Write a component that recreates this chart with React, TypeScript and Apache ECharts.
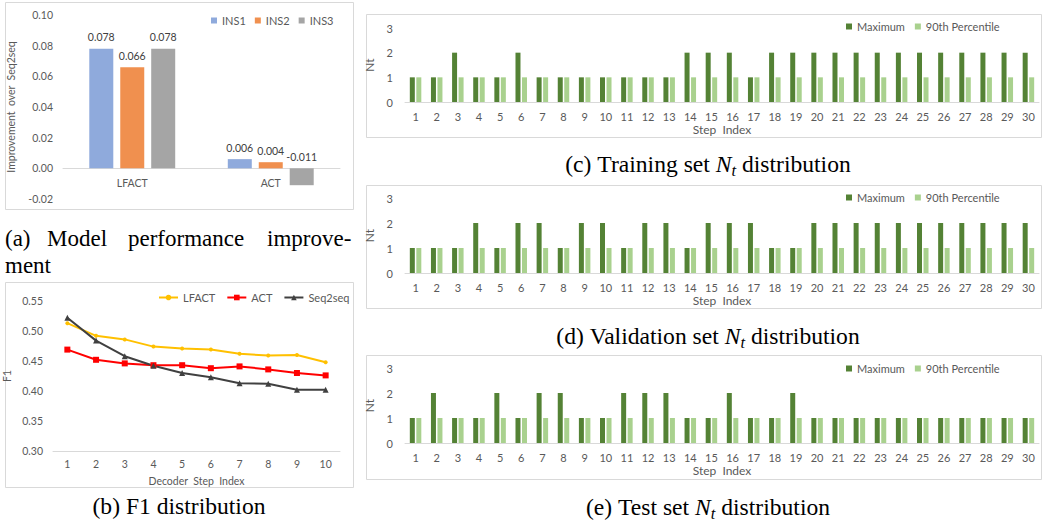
import React, { useEffect, useRef } from "react";
import * as echarts from "echarts";

// (a) Model performance improvement
const improveCats = ["LFACT", "ACT"];
const ins1 = [0.078, 0.006];
const ins2 = [0.066, 0.004];
const ins3 = [0.078, -0.011];

// (b) F1 distribution
const decoderSteps = ["1", "2", "3", "4", "5", "6", "7", "8", "9", "10"];
const f1LFACT = [0.513, 0.492, 0.486, 0.474, 0.471, 0.469, 0.462, 0.459, 0.46, 0.448];
const f1ACT = [0.469, 0.452, 0.446, 0.443, 0.443, 0.438, 0.441, 0.436, 0.43, 0.426];
const f1Seq2seq = [0.522, 0.484, 0.458, 0.442, 0.43, 0.423, 0.413, 0.412, 0.402, 0.402];

// (c)(d)(e) Nt distributions
const stepIndex = [
  "1", "2", "3", "4", "5", "6", "7", "8", "9", "10",
  "11", "12", "13", "14", "15", "16", "17", "18", "19", "20",
  "21", "22", "23", "24", "25", "26", "27", "28", "29", "30",
];
const trainMax = [1, 1, 2, 1, 1, 2, 1, 1, 1, 1, 1, 1, 1, 2, 2, 2, 1, 2, 2, 2, 2, 2, 2, 2, 2, 2, 2, 2, 2, 2];
const trainP90 = [1, 1, 1, 1, 1, 1, 1, 1, 1, 1, 1, 1, 1, 1, 1, 1, 1, 1, 1, 1, 1, 1, 1, 1, 1, 1, 1, 1, 1, 1];
const validMax = [1, 1, 1, 2, 1, 2, 2, 1, 2, 2, 1, 2, 2, 1, 2, 2, 2, 1, 1, 2, 2, 2, 2, 2, 2, 2, 2, 2, 2, 2];
const validP90 = [1, 1, 1, 1, 1, 1, 1, 1, 1, 1, 1, 1, 1, 1, 1, 1, 1, 1, 1, 1, 1, 1, 1, 1, 1, 1, 1, 1, 1, 1];
const testMax = [1, 2, 1, 1, 2, 1, 2, 2, 1, 1, 2, 2, 2, 1, 1, 2, 1, 1, 2, 1, 1, 1, 1, 1, 1, 1, 1, 1, 1, 1];
const testP90 = [1, 1, 1, 1, 1, 1, 1, 1, 1, 1, 1, 1, 1, 1, 1, 1, 1, 1, 1, 1, 1, 1, 1, 1, 1, 1, 1, 1, 1, 1];

const FONT = "Lato";
const SERIF = "Liberation Serif";
const GREY = "#595959";
const LINE = "#D9D9D9";
const DARK = "#548235";
const LIGHT = "#A9D18E";
const CAP = 23.6;

let ctx: CanvasRenderingContext2D | null = null;
function tw(t: string, size: number, italic?: boolean) {
  if (!ctx) ctx = document.createElement("canvas").getContext("2d");
  if (!ctx) return t.length * size * 0.5;
  ctx.font = `${italic ? "italic " : ""}${size}px "${SERIF}"`;
  return ctx.measureText(t).width;
}

type Part = { t: string; italic?: boolean; size?: number; dy?: number; space?: boolean };
function caption(cx: number, cy: number, parts: Part[]) {
  const widths = parts.map((p) => (p.space ? tw(" ", CAP) : tw(p.t, p.size || CAP, p.italic)));
  const total = widths.reduce((a, b) => a + b, 0);
  let x = cx - total / 2;
  const els: any[] = [];
  parts.forEach((p, i) => {
    if (!p.space) {
      els.push({
        type: "text",
        x,
        y: cy + (p.dy || 0),
        style: {
          text: p.t,
          fill: "#000",
          fontFamily: SERIF,
          fontSize: p.size || CAP,
          fontStyle: p.italic ? "italic" : "normal",
          align: "left",
          verticalAlign: "middle",
        },
      });
    }
    x += widths[i];
  });
  return els;
}

function word(x: number, y: number, t: string) {
  return {
    type: "text",
    x,
    y,
    style: { text: t, fill: "#000", fontFamily: SERIF, fontSize: 23, align: "left", verticalAlign: "middle" },
  };
}

function box(x: number, y: number, w: number, h: number) {
  return {
    type: "rect",
    shape: { x: x + 0.5, y: y + 0.5, width: w, height: h },
    style: { fill: "none", stroke: LINE, lineWidth: 1 },
    silent: true,
  };
}

function ntCaption(cy: number, letter: string, setName: string) {
  return caption(708, cy, [
    { t: `(${letter})` },
    { t: " ", space: true },
    { t: setName },
    { t: " ", space: true },
    { t: "set" },
    { t: " ", space: true },
    { t: "N", italic: true },
    { t: "t", italic: true, size: 16.5, dy: 6 },
    { t: " ", space: true },
    { t: "distribution" },
  ]);
}

export default function App() {
  const ref = useRef<HTMLDivElement>(null);
  useEffect(() => {
    if (!ref.current) return;
    const chart = echarts.init(ref.current, null, { renderer: "svg" });

    const labelStyle = { color: GREY, fontSize: 10.5, fontFamily: FONT };
    const ntGrids = [
      { top: 28, height: 74 },
      { top: 198, height: 75 },
      { top: 368, height: 75 },
    ];
    const ntData = [
      [trainMax, trainP90],
      [validMax, validP90],
      [testMax, testP90],
    ];
    const ntLegendTops = [21, 192, 363];

    const aMin = -0.02;
    const aMax = 0.1;
    const aHeight = 184;
    const zeroOffset = (aHeight * (0 - aMin)) / (aMax - aMin);

    const grids: any[] = [
      { left: 63, top: 15, width: 277, height: aHeight },
      { left: 53, top: 301, width: 287, height: 150 },
      ...ntGrids.map((g) => ({ left: 405, top: g.top, width: 634, height: g.height })),
    ];

    const xAxes: any[] = [
      {
        type: "category",
        gridIndex: 0,
        data: improveCats,
        offset: -zeroOffset,
        axisTick: { show: false },
        axisLine: { onZero: false, lineStyle: { color: LINE } },
        axisLabel: { ...labelStyle, margin: 9 },
      },
      {
        type: "category",
        gridIndex: 1,
        data: decoderSteps,
        axisTick: { show: false },
        axisLine: { lineStyle: { color: LINE } },
        axisLabel: { ...labelStyle, margin: 7 },
        name: "Decoder  Step  Index",
        nameLocation: "middle",
        nameGap: 24,
        nameTextStyle: { color: GREY, fontSize: 10.5, fontFamily: FONT },
      },
      ...ntGrids.map((_, i) => ({
        type: "category",
        gridIndex: 2 + i,
        data: stepIndex,
        axisTick: { show: false },
        axisLine: { lineStyle: { color: LINE } },
        axisLabel: { ...labelStyle, fontSize: 11, margin: 9, interval: 0 },
        name: "Step  Index",
        nameLocation: "middle",
        nameGap: 21,
        nameTextStyle: { color: GREY, fontSize: 12, fontFamily: FONT },
      })),
    ];

    const yAxes: any[] = [
      {
        type: "value",
        gridIndex: 0,
        min: aMin,
        max: aMax,
        interval: 0.02,
        splitLine: { show: false },
        axisLine: { show: false },
        axisTick: { show: false },
        axisLabel: { ...labelStyle, margin: 10, formatter: (v: number) => v.toFixed(2) },
        name: "Improvement  over  Seq2seq",
        nameLocation: "middle",
        nameGap: 47,
        nameTextStyle: { color: GREY, fontSize: 10.5, fontFamily: FONT },
      },
      {
        type: "value",
        gridIndex: 1,
        min: 0.3,
        max: 0.55,
        interval: 0.05,
        splitLine: { show: false },
        axisLine: { show: false },
        axisTick: { show: false },
        axisLabel: { ...labelStyle, margin: 10, formatter: (v: number) => v.toFixed(2) },
        name: "F1",
        nameLocation: "middle",
        nameGap: 41,
        nameTextStyle: { color: GREY, fontSize: 10.5, fontFamily: FONT },
      },
      ...ntGrids.map((_, i) => ({
        type: "value",
        gridIndex: 2 + i,
        min: 0,
        max: 3,
        interval: 1,
        splitLine: { show: false },
        axisLine: { show: false },
        axisTick: { show: false },
        axisLabel: { ...labelStyle, fontSize: 11, margin: 12 },
        name: "Nt",
        nameLocation: "middle",
        nameGap: 21,
        nameTextStyle: { color: GREY, fontSize: 12, fontFamily: FONT },
      })),
    ];

    const barLabel = {
      show: true,
      position: "top",
      color: "#404040",
      fontSize: 10.5,
      fontFamily: FONT,
      distance: 6,
      formatter: (p: any) => Number(p.value).toFixed(3),
    };

    const series: any[] = [
      { name: "INS1", type: "bar", xAxisIndex: 0, yAxisIndex: 0, data: ins1, barWidth: 24, barGap: "29%", itemStyle: { color: "#8FAADC" }, label: barLabel },
      { name: "INS2", type: "bar", xAxisIndex: 0, yAxisIndex: 0, data: ins2, barWidth: 24, barGap: "29%", itemStyle: { color: "#F0904F" }, label: barLabel },
      { name: "INS3", type: "bar", xAxisIndex: 0, yAxisIndex: 0, data: ins3, barWidth: 24, barGap: "29%", itemStyle: { color: "#A5A5A5" }, label: barLabel },
      { name: "LFACT", type: "line", xAxisIndex: 1, yAxisIndex: 1, data: f1LFACT, symbol: "circle", symbolSize: 4, lineStyle: { color: "#FFC000", width: 2 }, itemStyle: { color: "#FFC000" } },
      { name: "ACT", type: "line", xAxisIndex: 1, yAxisIndex: 1, data: f1ACT, symbol: "rect", symbolSize: 6, lineStyle: { color: "#FF0000", width: 2 }, itemStyle: { color: "#FF0000" } },
      { name: "Seq2seq", type: "line", xAxisIndex: 1, yAxisIndex: 1, data: f1Seq2seq, symbol: "triangle", symbolSize: 6, lineStyle: { color: "#404040", width: 2 }, itemStyle: { color: "#404040" } },
    ];
    ntData.forEach((d, i) => {
      series.push({ name: "Maximum", type: "bar", xAxisIndex: 2 + i, yAxisIndex: 2 + i, data: d[0], barWidth: 5, barGap: "30%", itemStyle: { color: DARK } });
      series.push({ name: "90th Percentile", type: "bar", xAxisIndex: 2 + i, yAxisIndex: 2 + i, data: d[1], barWidth: 5, barGap: "30%", itemStyle: { color: LIGHT } });
    });

    const legendText = { color: GREY, fontSize: 11, fontFamily: FONT };
    const legends: any[] = [
      { data: ["INS1", "INS2", "INS3"], left: 211, top: 15, itemWidth: 6, itemHeight: 6, itemGap: 9, icon: "rect", textStyle: legendText, padding: 0 },
      { data: ["LFACT", "ACT", "Seq2seq"], left: 158, top: 292, itemWidth: 19, itemHeight: 7, itemGap: 11, textStyle: legendText, padding: 0 },
      ...ntLegendTops.map((t) => ({
        data: ["Maximum", "90th Percentile"],
        left: 846,
        top: t,
        itemWidth: 6,
        itemHeight: 6,
        itemGap: 10,
        icon: "rect",
        textStyle: legendText,
        padding: 0,
      })),
    ];

    const graphic: any[] = [
      box(5, 2, 348, 207),
      box(5, 282, 348, 205),
      box(366, 14, 675, 123),
      box(366, 185, 675, 123),
      box(366, 355, 675, 124),
      word(5, 238, "(a)"),
      word(47, 238, "Model"),
      word(128, 238, "performance"),
      word(267, 238, "improve-"),
      word(5, 265, "ment"),
      ...caption(179, 506, [{ t: "(b)" }, { t: " ", space: true }, { t: "F1" }, { t: " ", space: true }, { t: "distribution" }]),
      ...ntCaption(164, "c", "Training"),
      ...ntCaption(336, "d", "Validation"),
      ...ntCaption(507, "e", "Test"),
    ];

    chart.setOption({
      animation: false,
      backgroundColor: "#fff",
      textStyle: { fontFamily: FONT },
      grid: grids,
      xAxis: xAxes,
      yAxis: yAxes,
      legend: legends,
      series,
      graphic,
    });
    return () => chart.dispose();
  }, []);
  return <div ref={ref} style={{ position: "fixed", left: 0, top: 0, width: 1042, height: 531, background: "#fff" }} />;
}
